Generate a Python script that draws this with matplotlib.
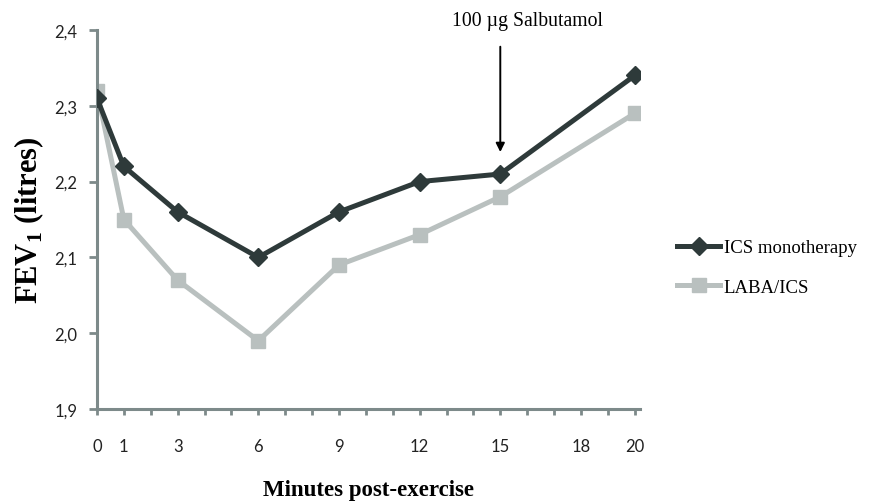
"""FEV1 after exercise: ICS monotherapy vs LABA/ICS."""

import matplotlib

matplotlib.use("Agg")
import matplotlib.pyplot as plt
from matplotlib.ticker import FuncFormatter, MultipleLocator

minutes = [0, 1, 3, 6, 9, 12, 15, 20]
ics_mono = [2.31, 2.22, 2.16, 2.10, 2.16, 2.20, 2.21, 2.34]
laba_ics = [2.32, 2.15, 2.07, 1.99, 2.09, 2.13, 2.18, 2.29]
x_tick_labels = [0, 1, 3, 6, 9, 12, 15, 18, 20]
y_ticks = [1.9, 2.0, 2.1, 2.2, 2.3, 2.4]

AXIS_GREY = "#7d8a8a"
DARK = "#2e3a3a"
LIGHT = "#b9c0bf"

plt.rcParams["mathtext.fontset"] = "custom"
plt.rcParams["mathtext.rm"] = "Liberation Serif"
plt.rcParams["mathtext.bf"] = "Liberation Serif:bold"

fig = plt.figure(figsize=(8.69, 5.02), dpi=100)
ax = fig.add_axes([0.1116, 0.1833, 0.625, 0.7549])

ax.plot(minutes, ics_mono, color=DARK, linewidth=3.6, marker="D",
        markersize=9, label="ICS monotherapy", zorder=3)
ax.plot(minutes, laba_ics, color=LIGHT, linewidth=3.6, marker="s",
        markersize=10, label="LABA/ICS", zorder=2)

ax.set_xlim(0, 20.2)
ax.set_ylim(1.9, 2.4)
ax.set_xticks(x_tick_labels)
ax.xaxis.set_minor_locator(MultipleLocator(1))
ax.set_yticks(y_ticks)
ax.yaxis.set_major_formatter(FuncFormatter(lambda v, _: f"{v:.1f}".replace(".", ",")))

for side in ("top", "right"):
    ax.spines[side].set_visible(False)
for side in ("left", "bottom"):
    ax.spines[side].set_color(AXIS_GREY)
    ax.spines[side].set_linewidth(2.2)

ax.tick_params(axis="both", which="both", colors=AXIS_GREY, width=2, direction="out")
ax.tick_params(axis="y", length=6, pad=8)
ax.tick_params(axis="x", which="both", length=4, pad=17)
for lbl in ax.get_xticklabels() + ax.get_yticklabels():
    lbl.set_color("#222222")
    lbl.set_fontfamily("Lato")
    lbl.set_fontsize(12)

ax.set_ylabel(r"FEV$_\mathbf{1}$ (litres)", family="Liberation Serif",
              fontweight="bold", fontsize=22, labelpad=6)
ax.set_xlabel("Minutes post-exercise", family="Liberation Serif",
              fontweight="bold", fontsize=16.5, labelpad=18)

# salbutamol dose marker at 15 min
ax.annotate("", xy=(15, 2.239), xytext=(15, 2.378), annotation_clip=False,
            arrowprops={"arrowstyle": "-|>", "color": "black", "lw": 1.4,
                        "shrinkA": 0, "shrinkB": 0, "mutation_scale": 13})
ax.text(16.0, 2.412, "100 µg Salbutamol", ha="center", va="center",
        family="Liberation Serif", fontsize=14.2, clip_on=False)

fig.legend(loc="center left", bbox_to_anchor=(0.779, 0.465), frameon=False,
           prop={"family": "Liberation Serif", "size": 13.5},
           borderpad=0, borderaxespad=0,
           handlelength=2.3, labelspacing=1.2, handletextpad=0.2)

fig.savefig("out.png", dpi=100)
